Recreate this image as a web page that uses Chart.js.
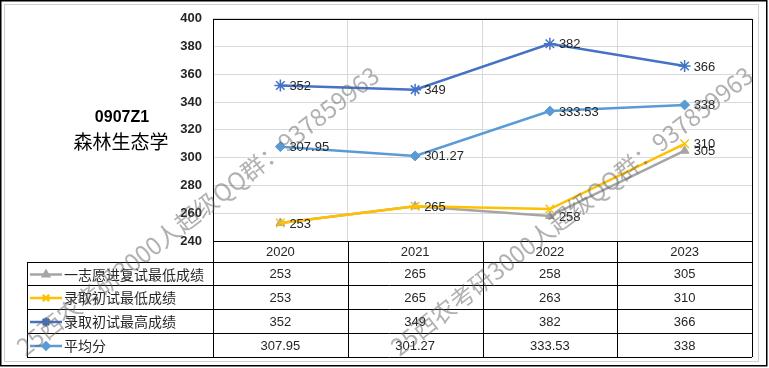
<!DOCTYPE html>
<html>
<head>
<meta charset="utf-8">
<script src="https://cdn.jsdelivr.net/npm/chart.js@4.4.1/dist/chart.umd.min.js"></script>
<style>
  html, body { margin: 0; padding: 0; background: #fff; }
  canvas { display: block; }
</style>
</head>
<body>
<canvas id="chart" width="769" height="368"></canvas>
<script>
const years = ['2020', '2021', '2022', '2023'];
const seriesNames = ['一志愿进复试最低成绩', '录取初试最低成绩', '录取初试最高成绩', '平均分'];
const firstChoiceMin = [253, 265, 258, 305];
const admitMin = [253, 265, 263, 310];
const admitMax = [352, 349, 382, 366];
const average = [307.95, 301.27, 333.53, 338];
const yMin = 240;
const yMax = 400;
const yStep = 20;
const titleCode = '0907Z1';
const titleName = '森林生态学';
const watermark = '25西农考研3000人超级QQ群：937859963';

// labels Excel left out because they overlapped
const hiddenLabels = [[0, 1], [2], [], []];

const FONT = '"Liberation Sans", "Noto Sans CJK SC", sans-serif';
const CJK = '"Noto Sans CJK SC", sans-serif';

const seriesStyle = [
    { color: '#A5A5A5', pointStyle: 'triangle', radius: 5, borderWidth: 1 },
    { color: '#FFC000', pointStyle: 'crossRot', radius: 6, borderWidth: 1.5 },
    { color: '#4472C4', pointStyle: 'star', radius: 6, borderWidth: 1.5 },
    { color: '#5B9BD5', pointStyle: 'rectRot', radius: 5, borderWidth: 1 }
];
const seriesData = [firstChoiceMin, admitMin, admitMax, average];

const datasets = seriesData.map((data, i) => ({
    label: seriesNames[i],
    data,
    borderColor: seriesStyle[i].color,
    backgroundColor: seriesStyle[i].color,
    borderWidth: 2.5,
    pointStyle: seriesStyle[i].pointStyle,
    pointRadius: seriesStyle[i].radius,
    pointBorderWidth: seriesStyle[i].borderWidth,
    pointBorderColor: seriesStyle[i].color,
    pointBackgroundColor: seriesStyle[i].color,
    tension: 0,
    order: 4 - i
}));

const labelsPlugin = {
    id: 'pointLabels',
    afterDatasetsDraw(chart) {
        const ctx = chart.ctx;
        ctx.save();
        ctx.font = '13px ' + FONT;
        ctx.fillStyle = '#262626';
        ctx.textAlign = 'left';
        ctx.textBaseline = 'middle';
        chart.data.datasets.forEach((ds, i) => {
            chart.getDatasetMeta(i).data.forEach((pt, j) => {
                if (hiddenLabels[i].includes(j)) return;
                ctx.fillText(String(ds.data[j]), pt.x + 9, pt.y + 1);
            });
        });
        ctx.restore();
    }
};

const tablePlugin = {
    id: 'dataTable',
    afterDraw(chart) {
        const { ctx, chartArea: a, scales: { x } } = chart;
        const colW = (a.right - a.left) / years.length;
        const tableLeft = 27;
        const rows = [a.bottom, a.bottom + 21, a.bottom + 44, a.bottom + 68, a.bottom + 92, a.bottom + 116];

        ctx.save();
        // plot frame
        ctx.strokeStyle = '#000';
        ctx.lineWidth = 1;
        ctx.strokeRect(Math.round(a.left) + 0.5, Math.round(a.top) + 0.5, Math.round(a.right - a.left), Math.round(a.bottom - a.top));

        // table lines
        ctx.beginPath();
        ctx.moveTo(a.left, rows[0] + 0.5);
        ctx.lineTo(a.right, rows[0] + 0.5);
        for (let r = 1; r < rows.length; r++) {
            ctx.moveTo(tableLeft, Math.round(rows[r]) + 0.5);
            ctx.lineTo(a.right, Math.round(rows[r]) + 0.5);
        }
        for (let c = 0; c <= years.length; c++) {
            const cx = Math.round(a.left + c * colW) + 0.5;
            ctx.moveTo(cx, rows[0]);
            ctx.lineTo(cx, rows[rows.length - 1]);
        }
        ctx.moveTo(tableLeft + 0.5, rows[1]);
        ctx.lineTo(tableLeft + 0.5, rows[rows.length - 1]);
        ctx.stroke();

        // header years
        ctx.fillStyle = '#262626';
        ctx.textAlign = 'center';
        ctx.textBaseline = 'middle';
        ctx.font = '13px ' + FONT;
        years.forEach((yr, j) => {
            ctx.fillText(yr, x.getPixelForValue(j), (rows[0] + rows[1]) / 2 + 1);
        });

        // rows
        seriesData.forEach((data, i) => {
            const cy = (rows[i + 1] + rows[i + 2]) / 2 + 1;
            const st = seriesStyle[i];
            ctx.strokeStyle = st.color;
            ctx.lineWidth = 2.5;
            ctx.beginPath();
            ctx.moveTo(30, cy);
            ctx.lineTo(62, cy);
            ctx.stroke();
            ctx.fillStyle = st.color;
            Chart.helpers.drawPoint(ctx, {
                pointStyle: st.pointStyle, radius: st.radius - 1.5, rotation: 0, borderWidth: st.borderWidth
            }, 46, cy);

            ctx.fillStyle = '#262626';
            ctx.textAlign = 'left';
            ctx.font = '14px ' + CJK;
            ctx.fillText(seriesNames[i], 64, cy);
            ctx.textAlign = 'center';
            ctx.font = '13px ' + FONT;
            data.forEach((v, j) => ctx.fillText(String(v), x.getPixelForValue(j), cy));
        });

        // title
        ctx.fillStyle = '#000';
        ctx.textAlign = 'center';
        ctx.font = 'bold 16px ' + FONT;
        ctx.fillText(titleCode, 122, 118);
        ctx.font = '19px ' + CJK;
        ctx.fillText(titleName, 121, 142);

        // outer frame
        ctx.strokeStyle = '#d0d0d0';
        ctx.lineWidth = 1;
        ctx.strokeRect(4.5, 4.5, 754, 357);
        ctx.strokeStyle = '#000';
        ctx.lineWidth = 1.5;
        ctx.strokeRect(0.75, 0.75, 766, 365);

        // watermark
        ctx.fillStyle = 'rgba(100,100,100,0.5)';
        ctx.font = '24px ' + CJK;
        ctx.textAlign = 'left';
        [[20, 350], [394, 350]].forEach(([sx, sy]) => {
            ctx.save();
            ctx.translate(sx, sy);
            ctx.rotate(-38 * Math.PI / 180);
            ctx.fillText(watermark, 0, 0);
            ctx.restore();
        });
        ctx.restore();
    }
};

const ctx = document.getElementById('chart').getContext('2d');
new Chart(ctx, {
    type: 'line',
    data: { labels: years, datasets },
    options: {
        responsive: false,
        animation: false,
        devicePixelRatio: 1,
        layout: { padding: { top: 18, right: 17, bottom: 127, left: 0 } },
        plugins: {
            legend: { display: false },
            tooltip: { enabled: false }
        },
        scales: {
            x: {
                offset: true,
                grid: { offset: true, color: '#d9d9d9', drawTicks: false },
                border: { display: false },
                ticks: { display: false },
                afterFit: (s) => { s.height = 0; }
            },
            y: {
                min: yMin,
                max: yMax,
                grid: { color: '#d9d9d9', drawTicks: false },
                border: { display: false },
                ticks: {
                    stepSize: yStep,
                    padding: 11,
                    color: '#262626',
                    font: { family: FONT, size: 13, weight: 'bold' }
                },
                afterFit: (s) => { s.width = 213; }
            }
        }
    },
    plugins: [labelsPlugin, tablePlugin]
});
</script>
</body>
</html>
